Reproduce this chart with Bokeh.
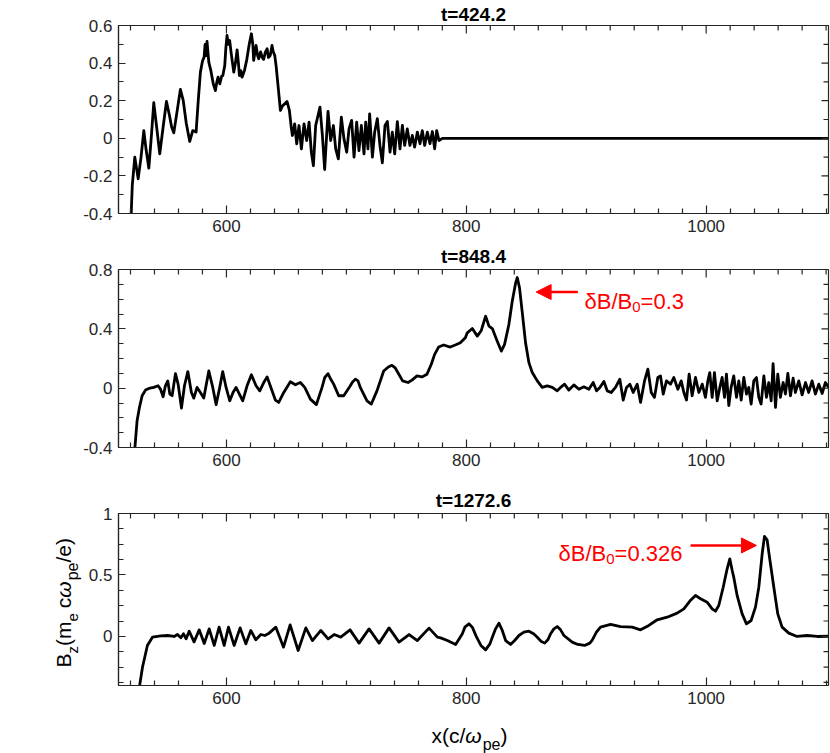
import math
from bokeh.plotting import figure
from bokeh.layouts import column, row
from bokeh.models import FixedTicker, Label, Arrow, NormalHead, Range1d, Title
from bokeh.core.properties import value
from bokeh.embed import file_html
from bokeh.resources import INLINE

FONT = "Liberation Sans"
INK = "#262626"
RED = "#ff0000"

# ---------------- data ----------------
titles = ["t=424.2", "t=848.4", "t=1272.6"]

x1 = [520.3, 521.5, 523.6, 526.4, 528.8, 531.1, 533.0, 535.3, 537.5, 539.4, 541.8, 544.4,
      547.2, 550.0, 552.5, 554.3, 556.1, 559.0, 561.6, 564.0, 566.5, 569.4, 571.9, 574.7,
      576.5, 578.3, 580.0, 581.4, 582.2, 583.0, 583.8, 585.3, 587.0, 589.0, 590.8, 592.0,
      593.0, 594.5, 596.0, 597.0, 598.6, 599.5, 600.5, 601.5, 602.7, 604.0, 606.1, 607.5,
      608.9, 610.0, 610.8, 612.0, 613.0, 615.0, 617.0, 619.0, 620.8, 622.0, 622.7, 623.8,
      624.7, 626.0, 626.9, 628.5, 629.8, 631.0, 632.5, 633.9, 635.0, 636.5, 638.0, 639.0,
      640.3, 641.5, 643.0, 645.0, 646.5, 648.0, 650.5, 652.5, 654.0, 655.0, 656.9, 658.6,
      660.5, 662.5, 664.7, 666.9, 668.9, 670.8, 672.5, 674.4, 678.0, 680.0, 681.9, 684.7,
      686.9, 689.2, 691.1, 693.3, 695.8, 698.0, 700.3, 702.2, 704.4, 706.4, 708.6, 710.5,
      712.5, 714.7, 716.1, 718.0, 719.4, 721.7, 723.6, 725.8, 728.0, 730.0, 732.2, 734.2,
      736.4, 738.3, 740.3, 742.5, 744.7, 746.7, 748.6, 750.8, 753.0, 755.0, 756.9, 759.2,
      761.4, 763.3, 765.3, 767.5, 769.7, 771.7, 773.6, 775.3, 777.2, 780.0, 800.0, 1102.0]
y1 = [-0.45, -0.25, -0.10, -0.216, -0.10, 0.041, -0.06, -0.159, 0.02, 0.189, 0.06, -0.083,
      0.06, 0.196, 0.121, 0.06, 0.029, 0.15, 0.26, 0.20, 0.08, -0.017, 0.041, 0.033,
      0.20, 0.352, 0.41, 0.432, 0.50, 0.44, 0.515, 0.405, 0.36, 0.29, 0.254, 0.30,
      0.325, 0.29, 0.33, 0.334, 0.387, 0.48, 0.547, 0.50, 0.52, 0.45, 0.352, 0.40,
      0.47, 0.40, 0.334, 0.36, 0.325, 0.36, 0.42, 0.50, 0.556, 0.50, 0.414, 0.46,
      0.494, 0.44, 0.423, 0.46, 0.43, 0.42, 0.46, 0.476, 0.43, 0.44, 0.494, 0.46,
      0.44, 0.38, 0.281, 0.148, 0.17, 0.18, 0.196, 0.148, 0.06, 0.015, 0.077, -0.029,
      0.068, -0.056, 0.077, -0.012, 0.086, -0.074, -0.145, 0.068, 0.166, 0.015, -0.166, 0.143,
      -0.012, 0.068, -0.056, -0.109, 0.112, -0.003, -0.074, 0.050, 0.095, -0.100, 0.086, -0.065,
      0.068, -0.083, 0.086, -0.056, 0.130, -0.100, 0.033, 0.104, -0.038, -0.130, 0.068, 0.089,
      -0.074, 0.033, -0.083, 0.089, -0.056, 0.068, -0.038, 0.050, -0.038, 0.015, -0.047, 0.033,
      -0.029, 0.041, -0.038, 0.033, -0.029, 0.036, -0.056, 0.041, -0.012, 0.0, 0.0, 0.0]

x2 = [523.2, 525.5, 527.5, 529.7, 532.5, 535.3, 539.4, 543.0, 545.0, 547.2, 549.1, 551.1,
      552.8, 554.7, 557.5, 559.7, 562.5, 565.0, 567.8, 570.8, 572.8, 575.5, 578.3, 581.1,
      585.3, 588.6, 591.4, 594.4, 596.9, 599.7, 602.8, 605.5, 608.0, 610.8, 613.6, 617.2,
      620.8, 624.7, 627.8, 631.1, 633.9, 637.5, 640.8, 643.6, 647.8, 653.3, 657.5, 661.6,
      665.3, 670.0, 675.0, 679.7, 682.0, 684.7, 687.0, 689.4, 693.6, 697.8, 703.3, 705.0,
      707.5, 709.7, 711.6, 717.2, 720.8, 725.5, 731.1, 735.0, 738.0, 740.5, 742.2, 746.9,
      751.4, 754.7, 758.9, 763.0, 767.2, 770.8,
      773.6, 776.9, 781.1, 786.6, 790.8, 795.0, 799.2, 800.8, 805.0, 809.2, 812.5, 816.1,
      818.9, 821.7, 825.8, 829.2, 831.9, 835.5, 838.3, 841.1, 842.5, 844.4, 846.7, 849.4,
      852.2, 855.0, 859.2, 863.3, 867.5, 871.7, 875.8, 879.2, 881.9, 885.5, 889.7, 893.9,
      898.0, 902.2, 905.8, 908.6, 911.4, 914.7, 917.5, 920.8, 924.4, 928.0, 930.8, 933.6,
      936.4, 939.2, 942.5, 945.3, 948.6, 951.4, 954.2, 956.9, 959.7, 961.9, 964.2, 966.9,
      970.3, 973.0, 976.4, 979.2, 981.4, 983.6, 985.8, 988.3, 991.1, 993.9, 996.7, 999.4,
      1001.4, 1003.0, 1005.0, 1006.9, 1009.2, 1011.4, 1013.3, 1015.3, 1016.9, 1018.9, 1020.8, 1023.0,
      1025.3, 1027.2, 1029.2, 1031.4, 1033.6, 1035.5, 1037.5, 1039.7, 1041.9, 1043.9, 1045.8, 1048.1,
      1050.3, 1052.2, 1054.2, 1055.8, 1057.8, 1059.7, 1061.9, 1064.2, 1066.1, 1068.1, 1070.3, 1072.5,
      1074.4, 1077.2, 1080.0, 1082.8, 1085.5, 1088.3, 1091.1, 1093.9, 1096.7, 1099.4, 1102.2]
y2 = [-0.45, -0.219, -0.129, -0.051, -0.013, -0.002, 0.005, 0.016, -0.006, -0.058, 0.016, 0.049,
      -0.040, -0.051, 0.098, 0.027, -0.134, 0.016, 0.112, -0.029, -0.067, 0.005, -0.029, -0.067,
      0.116, 0.005, -0.111, 0.005, 0.112, 0.005, -0.085, -0.029, 0.005, -0.040, -0.085, 0.016,
      0.090, 0.016, -0.018, 0.038, 0.076, -0.006, -0.080, -0.096, -0.029, 0.043, 0.023, 0.038,
      0.005, -0.074, -0.111, 0.005, 0.072, 0.098, 0.060, 0.027, -0.051, -0.051, 0.016, 0.040,
      0.061, 0.049, 0.005, -0.085, -0.107, -0.018, 0.116, 0.143, 0.154, 0.139, 0.116, 0.049,
      0.038, 0.054, 0.083, 0.076, 0.094, 0.161,
      0.228, 0.277, 0.291, 0.277, 0.291, 0.306, 0.340, 0.373, 0.402, 0.351, 0.389, 0.485,
      0.418, 0.402, 0.317, 0.250, 0.295, 0.429, 0.586, 0.708, 0.746, 0.675, 0.507, 0.306,
      0.172, 0.105, 0.049, 0.005, 0.016, 0.005, -0.018, 0.009, 0.027, -0.013, 0.022, -0.007,
      0.009, -0.007, 0.038, -0.018, 0.005, 0.045, -0.018, -0.029, 0.005, 0.060, -0.080, 0.005,
      0.027, -0.029, 0.027, -0.096, 0.049, 0.128, -0.029, -0.062, 0.072, 0.083, -0.040, 0.049,
      0.027, 0.072, -0.007, 0.049, -0.029, -0.080, 0.094, -0.051, 0.072, -0.029, 0.027, -0.062,
      0.049, 0.105, -0.062, 0.105, -0.085, 0.005, 0.072, -0.062, 0.094, -0.118, 0.005, 0.083,
      -0.062, 0.049, -0.080, 0.072, -0.040, 0.005, -0.107, 0.049, 0.072, -0.062, -0.107, 0.083,
      -0.062, 0.038, -0.085, 0.166, -0.129, 0.094, -0.062, 0.038, -0.040, 0.099, -0.051, 0.067,
      -0.029, 0.049, -0.045, 0.038, -0.029, 0.049, -0.040, 0.027, -0.036, 0.038, 0.005]

x3 = [526.8, 530.0, 534.1, 538.3, 545.3, 550.9, 556.4, 559.2, 562.0, 564.2, 566.4, 568.9,
      573.0, 577.3, 581.5, 585.6, 589.8, 593.9, 598.1, 601.7, 606.4, 611.4, 616.2, 620.3,
      624.5, 628.7, 632.0, 635.6, 641.2, 647.6, 653.1, 659.8, 666.2, 671.7, 678.7, 684.8,
      689.8, 695.3, 703.1, 710.6, 718.9, 727.3, 735.6, 743.9, 752.3, 759.2, 768.9, 775.9,
      778.6, 784.2, 791.1, 796.7, 798.8, 802.2, 805.0, 808.6, 812.2, 816.1, 819.7, 821.7,
      824.4, 827.2, 830.0, 832.8, 836.9, 840.3, 843.9, 848.0, 852.2, 856.1, 859.2, 862.2,
      865.3, 868.0, 870.3, 873.0, 875.8, 878.6, 881.4, 888.3, 893.0, 898.6, 903.0, 905.0,
      908.5, 911.9, 920.3, 928.6,
      938.3, 945.3, 952.2, 959.2, 967.5, 975.8, 981.4, 986.4, 991.1, 995.3, 1000.8, 1005.0,
      1007.8, 1010.5, 1014.2, 1017.5, 1019.7, 1021.7, 1023.0, 1025.8, 1030.0, 1033.6, 1037.5, 1041.1,
      1043.9, 1046.7, 1048.6, 1050.8, 1053.0, 1056.4, 1059.7, 1063.3, 1068.9, 1075.8, 1084.2, 1092.5,
      1102.2]
y3 = [-0.45, -0.251, -0.074, -0.007, 0.004, 0.007, -0.001, 0.015, -0.012, 0.021, -0.020, 0.042,
      -0.045, 0.053, -0.058, 0.061, -0.074, 0.075, -0.074, 0.075, -0.074, 0.069, -0.061, 0.048,
      -0.028, 0.015, 0.007, 0.026, 0.075, -0.088, 0.094, -0.115, 0.069, -0.034, 0.048, -0.020,
      0.015, -0.006, 0.053, -0.055, 0.061, -0.055, 0.069, -0.047, 0.015, -0.034, 0.067, -0.006,
      -0.012, -0.034, -0.066, 0.021, 0.075, 0.102, 0.075, -0.007, -0.074, -0.110, -0.061, -0.007,
      0.061, 0.107, 0.048, -0.034, -0.066, -0.034, 0.007, 0.034, 0.042, 0.021, -0.007, -0.039,
      -0.055, -0.028, 0.021, 0.061, 0.080, 0.053, 0.007, -0.047, -0.066, -0.074, -0.055, -0.030,
      0.034, 0.075, 0.097, 0.080,
      0.075, 0.053, 0.089, 0.135, 0.156, 0.189, 0.224, 0.287, 0.333, 0.306, 0.278, 0.224,
      0.205, 0.251, 0.400, 0.550, 0.631, 0.536, 0.482, 0.333, 0.183, 0.102, 0.129, 0.238,
      0.400, 0.672, 0.813, 0.786, 0.631, 0.400, 0.183, 0.075, 0.026, -0.001, 0.007, -0.001,
      0.001]

x_major = [600, 800, 1000]
x_labels = ["600", "800", "1000"]
x_minor = [520, 540, 560, 580, 620, 640, 660, 680, 700, 720, 740, 760, 780, 820, 840, 860,
           880, 900, 920, 940, 960, 980, 1020, 1040, 1060, 1080, 1100]

y1_major = [-0.4, -0.2, 0.0, 0.2, 0.4, 0.6]
y1_labels = ["-0.4", "-0.2", "0", "0.2", "0.4", "0.6"]
y1_minor = [-0.3, -0.1, 0.1, 0.3, 0.5]
y2_major = [-0.4, 0.0, 0.4, 0.8]
y2_labels = ["-0.4", "0", "0.4", "0.8"]
y2_minor = [-0.3, -0.2, -0.1, 0.1, 0.2, 0.3, 0.5, 0.6, 0.7]
y3_major = [0.0, 0.5, 1.0]
y3_labels = ["0", "0.5", "1"]
y3_minor = [-0.375, -0.25, -0.125, 0.125, 0.25, 0.375, 0.625, 0.75, 0.875]

# ---------------- layout constants ----------------
X_RANGE = (510, 1102)
FIG_W = 830
BORDER_L = 118
BORDER_R = 2
FRAME_W = FIG_W - BORDER_L - BORDER_R
YLAB_W = 84

# approximate advance widths (em) for the Arial-metric font
W = {'δ': 0.556, 'B': 0.667, '/': 0.278, '=': 0.584, '.': 0.278, 'x': 0.5, '(': 0.333,
     ')': 0.333, 'c': 0.5, 'ω': 0.778, 'p': 0.556, 'e': 0.556, 'm': 0.833, 'z': 0.5}


def text_width(t, size):
    return sum(W.get(ch, 0.556) for ch in t) * size


def style_axis(ax, major_len):
    ax.axis_line_color = INK
    ax.axis_line_width = 1.2
    ax.major_tick_line_color = INK
    ax.minor_tick_line_color = INK
    ax.major_tick_line_width = 1.2
    ax.minor_tick_line_width = 1.2
    ax.major_tick_in = major_len
    ax.major_tick_out = 0
    ax.minor_tick_in = 5
    ax.minor_tick_out = 0
    ax.major_label_standoff = 6
    ax.major_label_text_font = FONT
    ax.major_label_text_font_size = "17px"
    ax.major_label_text_color = INK


def make_panel(xs, ys, yr, ymaj, ylab, ymin, width, left, height, top, bottom, title, standoff):
    p = figure(width=width, height=height, x_range=Range1d(*X_RANGE), y_range=Range1d(*yr),
               output_backend="svg", toolbar_location=None,
               min_border_left=left, min_border_right=BORDER_R,
               min_border_top=top, min_border_bottom=bottom)
    p.title = Title(text=title, align="center", text_font=FONT, text_font_size="19px",
                    text_font_style="bold", text_color="black", standoff=standoff)
    p.xgrid.visible = False
    p.ygrid.visible = False
    p.outline_line_color = INK
    p.outline_line_width = 1.2
    p.background_fill_color = "white"
    p.border_fill_color = "white"
    p.line(xs, ys, line_width=2.8, line_color="black", line_join="round")

    xa = p.xaxis[0]
    xa.ticker = FixedTicker(ticks=x_major, minor_ticks=x_minor)
    xa.major_label_overrides = {v: s for v, s in zip(x_major, x_labels)}
    style_axis(xa, 8)
    ya = p.yaxis[0]
    ya.ticker = FixedTicker(ticks=ymaj, minor_ticks=ymin)
    ya.major_label_overrides = {v: s for v, s in zip(ymaj, ylab)}
    style_axis(ya, 7)

    # inward ticks on the top and right edges of the box (half of each dash is clipped)
    p.scatter(x_major, [yr[1]] * len(x_major), marker="dash", angle=math.pi / 2, size=16,
              line_color=INK, line_width=1.2)
    p.scatter(x_minor, [yr[1]] * len(x_minor), marker="dash", angle=math.pi / 2, size=10,
              line_color=INK, line_width=1.2)
    p.scatter([X_RANGE[1]] * len(ymaj), ymaj, marker="dash", size=14,
              line_color=INK, line_width=1.2)
    p.scatter([X_RANGE[1]] * len(ymin), ymin, marker="dash", size=10,
              line_color=INK, line_width=1.2)
    return p


def frame_h(height, top, bottom):
    return height - top - bottom


def add_runs_data(p, fh, x0, y0, runs, color):
    """Horizontal text runs inside a panel, in data units. runs: (text, size, drop_px)"""
    sx = (X_RANGE[1] - X_RANGE[0]) / FRAME_W
    sy = (p.y_range.end - p.y_range.start) / fh
    pos = 0.0
    for text, size, drop in runs:
        p.add_layout(Label(x=x0 + pos * sx, y=y0 - drop * sy, text=text, text_font=FONT,
                           text_font_size=f"{size}px", text_color=color,
                           text_align="left", text_baseline="alphabetic"))
        pos += text_width(text, size)


def add_runs_px(p, x0, y0, runs, angle=0.0):
    """Text runs on a plain pixel canvas. runs: (text, size, drop_px, style, gap_px)"""
    pos = 0.0
    for text, size, drop, fstyle, gap in runs:
        if angle == 0.0:
            x, y = x0 + pos, y0 - drop
        else:
            x, y = x0 + drop, y0 + pos
        p.text(x=[x], y=[y], text=[text], angle=angle, text_font=value(FONT),
               text_font_size=f"{size}px", text_font_style=fstyle, text_color="black",
               text_align="left", text_baseline="alphabetic")
        pos += text_width(text, size) + gap


def canvas(width, height):
    c = figure(width=width, height=height, x_range=Range1d(0, width), y_range=Range1d(0, height),
               output_backend="svg", toolbar_location=None, x_axis_type=None, y_axis_type=None,
               min_border=0, frame_align=False)
    c.xgrid.visible = False
    c.ygrid.visible = False
    c.outline_line_color = None
    c.background_fill_color = "white"
    c.border_fill_color = "white"
    return c


p1 = make_panel(x1, y1, (-0.4, 0.6), y1_major, y1_labels, y1_minor,
                FIG_W, BORDER_L, 240, 25, 27, titles[0], 2)
p2 = make_panel(x2, y2, (-0.4, 0.8), y2_major, y2_labels, y2_minor,
                FIG_W, BORDER_L, 240, 28, 33, titles[1], 6)
p3 = make_panel(x3, y3, (-0.4, 1.0), y3_major, y3_labels, y3_minor,
                FIG_W - YLAB_W, BORDER_L - YLAB_W, 232, 33, 27, titles[2], 6)

# panel 2 annotation
p2.add_layout(Arrow(end=NormalHead(size=15, fill_color=RED, line_color=RED, line_width=1),
                    x_start=893.0, y_start=0.648, x_end=858.2, y_end=0.648,
                    line_color=RED, line_width=2.5))
add_runs_data(p2, frame_h(240, 28, 33), 898.6, 0.585,
              [("δB/B", 22, 0), ("0", 15, 6), ("=0.3", 22, 0)], RED)
# panel 3 annotation
p3.add_layout(Arrow(end=NormalHead(size=15, fill_color=RED, line_color=RED, line_width=1),
                    x_start=987.0, y_start=0.74, x_end=1041.9, y_end=0.74,
                    line_color=RED, line_width=2.5))
add_runs_data(p3, frame_h(232, 33, 27), 876.9, 0.677,
              [("δB/B", 22, 0), ("0", 15, 6), ("=0.326", 22, 0)], RED)

# y-axis label, on its own canvas left of panel 3
ylab = canvas(YLAB_W, 232)
add_runs_px(ylab, 63, 45, [("B", 21, 0, "normal", 0), ("z", 15, 9, "normal", 0),
                           ("(m", 21, 0, "normal", 0), ("e", 15, 9, "normal", 5),
                           ("c", 21, 0, "normal", 0), ("ω", 21, 0, "italic", 1),
                           ("pe", 16, 9, "normal", 0), ("/e)", 21, 0, "normal", 0)],
            angle=math.pi / 2)

# x-axis label, on its own canvas below panel 3
XLAB_H = 41
xlab = canvas(FIG_W, XLAB_H)
add_runs_px(xlab, 431, 18, [("x(c/", 21, 0, "normal", 0), ("ω", 21, 0, "italic", 1),
                            ("pe", 16, 9, "normal", 0), (")", 21, 0, "normal", 0)])

layout = column(p1, p2, row(ylab, p3), xlab)
open("out.html", "w").write(file_html(layout, INLINE))
